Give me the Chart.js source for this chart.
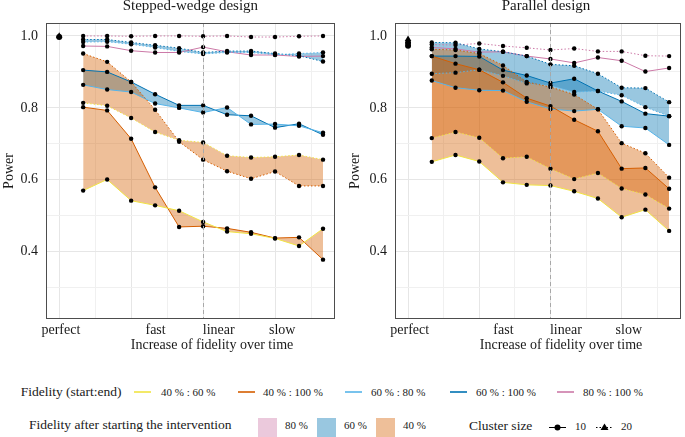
<!DOCTYPE html>
<html>
<head>
<meta charset="utf-8">
<script src="https://cdn.jsdelivr.net/npm/chart.js@4.4.0/dist/chart.umd.min.js"></script>
<style>
  html, body { margin: 0; padding: 0; background: #fff; }
  #wrap { position: relative; width: 685px; height: 437px; overflow: hidden;
          font-family: 'Liberation Serif', 'Times New Roman', Tinos, 'DejaVu Serif', serif; color: #1a1a1a; }
  canvas { position: absolute; top: 0; }
  .txt { position: absolute; white-space: nowrap; }
</style>
</head>
<body>
<div id="wrap">
  <canvas id="swChart" width="342" height="360" style="left:0px"></canvas>
  <canvas id="parChart" width="343" height="360" style="left:342px"></canvas>
</div>
<script>
// scenario positions on the x axis (0 = perfect fidelity)
var steps = [1, 2, 3, 4, 5, 6, 7, 8, 9, 10, 11];
var linearStep = 6;

var xGridMajor = [0, 3, 6, 9];
var xGridMinor = [1.5, 4.5, 7.5, 10.5];
var xLabels = ['perfect', 'fast', 'linear', 'slow'];
var xLabelPos = [0.07, 4.02, 6.65, 9.3];

var yLabelTicks = [0.4, 0.6, 0.8, 1.0];
var yMinorTicks = [0.3, 0.5, 0.7, 0.9];

var fidelityLabels = ['40 % : 60 %', '40 % : 100 %', '60 % : 80 %', '60 % : 100 %', '80 % : 100 %'];
var fillLabels = ['80 %', '60 %', '40 %'];
var clusterSizes = ['10', '20'];

// Stepped-wedge design
var sw40_60_s10 = [0.570, 0.601, 0.542, 0.529, 0.514, 0.483, 0.456, 0.450, 0.437, 0.416, 0.464];
var sw40_100_s10 = [0.802, 0.793, 0.714, 0.579, 0.469, 0.471, 0.465, 0.454, 0.438, 0.440, 0.378];
var sw40_60_s20 = [0.814, 0.806, 0.772, 0.733, 0.710, 0.704, 0.667, 0.662, 0.664, 0.669, 0.656];
var sw40_100_s20 = [0.951, 0.928, 0.872, 0.795, 0.706, 0.656, 0.624, 0.603, 0.623, 0.583, 0.583];
var sw60_80_s10 = [0.864, 0.851, 0.844, 0.812, 0.800, 0.787, 0.801, 0.754, 0.755, 0.750, 0.731];
var sw60_100_s10 = [0.905, 0.900, 0.872, 0.838, 0.807, 0.807, 0.781, 0.778, 0.745, 0.756, 0.725];
var sw60_80_s20 = [0.983, 0.984, 0.977, 0.968, 0.957, 0.950, 0.954, 0.954, 0.948, 0.951, 0.954];
var sw60_100_s20 = [0.990, 0.990, 0.982, 0.974, 0.966, 0.954, 0.958, 0.958, 0.951, 0.945, 0.929];
var sw80_100_s10 = [0.972, 0.971, 0.959, 0.954, 0.954, 0.969, 0.956, 0.947, 0.947, 0.943, 0.944];
var sw80_100_s20 = [1.000, 1.000, 0.999, 1.000, 1.000, 0.999, 1.000, 0.997, 0.997, 0.999, 1.000];
var swPerfect_s10 = [0.997];
var swPerfect_s20 = [1.000];

// Parallel design
var pl40_60_s10 = [0.650, 0.669, 0.651, 0.593, 0.586, 0.584, 0.568, 0.548, 0.496, 0.517, 0.458];
var pl40_100_s10 = [0.944, 0.923, 0.906, 0.871, 0.827, 0.805, 0.767, 0.735, 0.631, 0.633, 0.575];
var pl40_60_s20 = [0.716, 0.733, 0.717, 0.660, 0.664, 0.631, 0.602, 0.619, 0.576, 0.559, 0.520];
var pl40_100_s20 = [0.963, 0.961, 0.951, 0.918, 0.872, 0.858, 0.837, 0.796, 0.702, 0.674, 0.606];
var pl60_80_s10 = [0.876, 0.856, 0.849, 0.848, 0.817, 0.797, 0.791, 0.796, 0.749, 0.744, 0.697];
var pl60_100_s10 = [0.944, 0.944, 0.943, 0.905, 0.890, 0.869, 0.881, 0.847, 0.818, 0.784, 0.777];
var pl60_80_s20 = [0.895, 0.898, 0.906, 0.889, 0.868, 0.862, 0.844, 0.847, 0.835, 0.802, 0.777];
var pl60_100_s20 = [0.982, 0.981, 0.964, 0.956, 0.944, 0.921, 0.917, 0.895, 0.856, 0.855, 0.816];
var pl80_100_s10 = [0.968, 0.964, 0.955, 0.956, 0.944, 0.936, 0.925, 0.940, 0.931, 0.901, 0.911];
var pl80_100_s20 = [0.976, 0.975, 0.979, 0.972, 0.967, 0.961, 0.965, 0.957, 0.957, 0.945, 0.944];
var plPerfect_s10 = [0.981, 0.973];
var plPerfect_s20 = [0.991];

var lineColors = ['#F0E442', '#D55E00', '#56B4E9', '#0072B2', '#CC79A7'];
var fillColors = ['rgba(204,121,167,0.4)', 'rgba(0,114,178,0.4)', 'rgba(213,94,0,0.4)'];
var serif = "'Liberation Serif', 'Times New Roman', Tinos, 'DejaVu Serif', serif";

function lineSet(values, color, dotted, fillTarget, fillColor) {
    return {
        data: steps.map(function (s, i) { return { x: s, y: values[i] }; }),
        borderColor: color,
        borderWidth: 1,
        borderDash: dotted ? [1.5, 2] : [],
        pointRadius: 2.2,
        pointBackgroundColor: '#000',
        pointBorderWidth: 0,
        tension: 0,
        fill: fillTarget == null ? false : { target: fillTarget, above: fillColor, below: fillColor }
    };
}

function perfectSet(values, style, radius) {
    return {
        data: values.map(function (v) { return { x: 0, y: v }; }),
        showLine: false,
        pointStyle: style,
        pointRadius: radius,
        pointBackgroundColor: '#000',
        pointBorderColor: '#000',
        pointBorderWidth: 0,
        fill: false
    };
}

function near(list, v) {
    for (var i = 0; i < list.length; i++) {
        if (Math.abs(list[i] - v) < 1e-6) return i;
    }
    return -1;
}

var panelDecor = {
    id: 'panelDecor',
    afterDatasetsDraw: function (chart) {
        var a = chart.chartArea, ctx = chart.ctx;
        var x = Math.round(chart.scales.x.getPixelForValue(linearStep)) + 0.5;
        ctx.save();
        ctx.strokeStyle = '#a8a8a8';
        ctx.lineWidth = 1;
        ctx.setLineDash([4, 3]);
        ctx.beginPath();
        ctx.moveTo(x, a.top);
        ctx.lineTo(x, a.bottom);
        ctx.stroke();
        ctx.setLineDash([]);
        ctx.strokeStyle = '#4d4d4d';
        ctx.strokeRect(Math.round(a.left) + 0.5, Math.round(a.top) + 0.5,
            Math.round(a.right - a.left) - 1, Math.round(a.bottom - a.top) - 1);
        ctx.restore();
    }
};

function makePanel(id, s, perfect10, perfect20, yWidth, titlePad, padRight) {
    var datasets = [
        lineSet(s[0], lineColors[0], false, 1, fillColors[2]),
        lineSet(s[1], lineColors[1], false),
        lineSet(s[2], lineColors[0], true, 3, fillColors[2]),
        lineSet(s[3], lineColors[1], true),
        lineSet(s[4], lineColors[2], false, 5, fillColors[1]),
        lineSet(s[5], lineColors[3], false),
        lineSet(s[6], lineColors[2], true, 7, fillColors[1]),
        lineSet(s[7], lineColors[3], true),
        lineSet(s[8], lineColors[4], false),
        lineSet(s[9], lineColors[4], true),
        perfectSet(perfect10, 'circle', 3),
        perfectSet(perfect20, 'triangle', 3.8)
    ];
    return new Chart(document.getElementById(id).getContext('2d'), {
        type: 'line',
        data: { datasets: datasets },
        plugins: [panelDecor],
        options: {
            responsive: false,
            animation: false,
            layout: { padding: { top: 23, right: padRight, bottom: 0, left: 0 } },
            plugins: {
                legend: { display: false },
                title: { display: false },
                tooltip: { enabled: false },
                filler: { propagate: false, drawTime: 'beforeDatasetsDraw' }
            },
            scales: {
                x: {
                    type: 'linear',
                    min: -0.55,
                    max: 11.5,
                    afterBuildTicks: function (scale) {
                        var vals = xGridMajor.concat(xGridMinor, xLabelPos).sort(function (a, b) { return a - b; });
                        scale.ticks = vals.map(function (v) { return { value: v }; });
                    },
                    afterFit: function (scale) { scale.height = 41; },
                    ticks: {
                        autoSkip: false,
                        maxRotation: 0,
                        minRotation: 0,
                        padding: 3,
                        color: '#1a1a1a',
                        font: { family: serif, size: 14 },
                        callback: function (value) {
                            var k = near(xLabelPos, value);
                            return k >= 0 ? xLabels[k] : '';
                        }
                    },
                    grid: {
                        drawTicks: false,
                        color: function (c) {
                            var v = c.tick ? c.tick.value : null;
                            if (v === null || near(xLabelPos, v) >= 0) return 'rgba(0,0,0,0)';
                            return near(xGridMajor, v) >= 0 ? '#e6e6e6' : '#f0f0f0';
                        }
                    },
                    border: { display: false }
                },
                y: {
                    type: 'linear',
                    min: 0.213,
                    max: 1.036,
                    afterBuildTicks: function (scale) {
                        var vals = yMinorTicks.concat(yLabelTicks).sort(function (a, b) { return a - b; });
                        scale.ticks = vals.map(function (v) { return { value: v }; });
                    },
                    afterFit: function (scale) { scale.width = yWidth; },
                    ticks: {
                        padding: 8,
                        color: '#1a1a1a',
                        font: { family: serif, size: 14 },
                        callback: function (value) {
                            return near(yLabelTicks, value) >= 0 ? value.toFixed(1) : '';
                        }
                    },
                    grid: {
                        drawTicks: false,
                        color: function (c) {
                            var v = c.tick ? c.tick.value : null;
                            return near(yLabelTicks, v) >= 0 ? '#e6e6e6' : '#f0f0f0';
                        }
                    },
                    border: { display: false },
                    title: {
                        display: true,
                        text: 'Power',
                        color: '#1a1a1a',
                        font: { family: serif, size: 14 },
                        padding: { top: titlePad, bottom: 0 }
                    }
                }
            }
        }
    });
}

makePanel('swChart',
    [sw40_60_s10, sw40_100_s10, sw40_60_s20, sw40_100_s20, sw60_80_s10, sw60_100_s10,
     sw60_80_s20, sw60_100_s20, sw80_100_s10, sw80_100_s20],
    swPerfect_s10, swPerfect_s20, 46, 0.6, 7);
makePanel('parChart',
    [pl40_60_s10, pl40_100_s10, pl40_60_s20, pl40_100_s20, pl60_80_s10, pl60_100_s10,
     pl60_80_s20, pl60_100_s20, pl80_100_s10, pl80_100_s20],
    plPerfect_s10, plPerfect_s20, 53, 5.1, 1);

// titles, axis titles and the legend as page text
var wrap = document.getElementById('wrap');
function addText(str, left, baseline, size, centered) {
    var d = document.createElement('div');
    d.className = 'txt';
    d.textContent = str;
    d.style.left = left + 'px';
    d.style.top = (baseline - 0.8375 * size) + 'px';
    d.style.fontSize = size + 'px';
    d.style.lineHeight = size + 'px';
    if (centered) d.style.transform = 'translateX(-50%)';
    wrap.appendChild(d);
    return d;
}
function addBox(left, top, w, h, bg) {
    var d = document.createElement('div');
    d.style.position = 'absolute';
    d.style.left = left + 'px';
    d.style.top = top + 'px';
    d.style.width = w + 'px';
    d.style.height = h + 'px';
    d.style.background = bg;
    wrap.appendChild(d);
    return d;
}

addText('Stepped-wedge design', 190.4, 10.7, 15, true);
addText('Parallel design', 546, 10.7, 15, true);
addText('Increase of fidelity over time', 212, 350, 14, true);
addText('Increase of fidelity over time', 561, 350, 14, true);

addText('Fidelity (start:end)', 20.7, 396, 13.5);
var lineKeyX = [134, 238, 345, 450, 557];
var lineLabelX = [161, 263, 371, 476, 583];
fidelityLabels.forEach(function (lab, i) {
    var k = addBox(lineKeyX[i], 391, 17, 1.5, lineColors[i]);
    k.style.opacity = '0.8';
    addText(lab, lineLabelX[i], 396, 11);
});

addText('Fidelity after starting the intervention', 29, 429.3, 13.5);
var boxX = [258, 317, 376];
fillLabels.forEach(function (lab, i) {
    addBox(boxX[i], 418, 19, 19, fillColors[i]);
    addText(lab, boxX[i] + 27, 429.3, 11);
});

addText('Cluster size', 469, 430.5, 13.5);
var keySvg = document.createElement('div');
keySvg.style.cssText = 'position:absolute;left:545px;top:419px;width:80px;height:16px;';
keySvg.innerHTML =
    '<svg width="80" height="16" xmlns="http://www.w3.org/2000/svg">' +
    '<line x1="4" y1="8.5" x2="21" y2="8.5" stroke="#000" stroke-width="1"/>' +
    '<circle cx="12.5" cy="8.5" r="3" fill="#000"/>' +
    '<line x1="51" y1="8.5" x2="68" y2="8.5" stroke="#000" stroke-width="1" stroke-dasharray="1.5,2"/>' +
    '<polygon points="59.5,4.5 63.5,11 55.5,11" fill="#000"/>' +
    '</svg>';
wrap.appendChild(keySvg);
addText(clusterSizes[0], 575, 430, 11);
addText(clusterSizes[1], 621, 430, 11);
</script>
</body>
</html>
